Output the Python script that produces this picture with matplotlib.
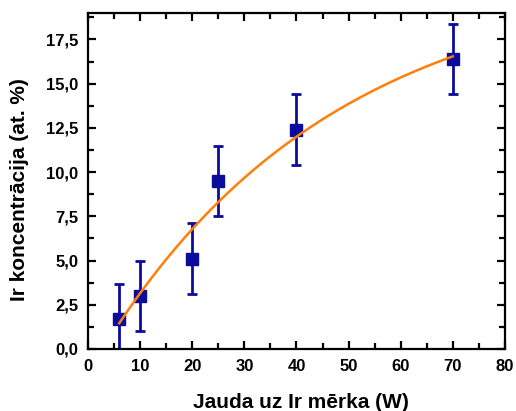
import numpy as np
import matplotlib
matplotlib.use("Agg")
import matplotlib.pyplot as plt
from matplotlib.ticker import MultipleLocator, FuncFormatter

plt.rcParams.update({
    "font.family": ["Liberation Sans", "DejaVu Sans"],
    "font.weight": "bold",
    "axes.linewidth": 1.6,
})

# sputtering power (W) vs Ir content (at. %)
power = [6, 10, 20, 25, 40, 70]
ir_conc = [1.7, 3.0, 5.1, 9.5, 12.4, 16.4]
ir_err = [2.0, 2.0, 2.0, 2.0, 2.0, 2.0]

# saturating fit: y = y0 + A * (1 - exp(-x / t))
fit_y0, fit_A, fit_t = -1.38, 22.72, 45.0
fit_range = (6, 70)

NAVY, ORANGE = "#0b0b9c", "#ff7f0a"

fig = plt.figure(figsize=(5.16, 4.11), dpi=100)
ax = fig.add_axes([0.1705, 0.151, 0.808, 0.8175])

ax.errorbar(power, ir_conc, yerr=ir_err, fmt="s", color=NAVY, ms=9, elinewidth=2,
            capsize=3.5, capthick=2, zorder=2)
xf = np.linspace(*fit_range, 200)
ax.plot(xf, fit_y0 + fit_A * (1 - np.exp(-xf / fit_t)), color=ORANGE, lw=1.8, zorder=3)

ax.set_xlim(0, 80)
ax.set_ylim(0, 19)
ax.xaxis.set_major_locator(MultipleLocator(10))
ax.xaxis.set_minor_locator(MultipleLocator(5))
ax.yaxis.set_major_locator(MultipleLocator(2.5))
ax.yaxis.set_minor_locator(MultipleLocator(1.25))
ax.yaxis.set_major_formatter(FuncFormatter(lambda v, p: f"{v:.1f}".replace(".", ",")))
ax.tick_params(which="both", direction="in", top=True, right=True, width=1.6, labelsize=12)
ax.tick_params(which="major", length=6)
ax.tick_params(axis="x", pad=7)
ax.tick_params(axis="y", pad=7)
ax.tick_params(which="minor", length=4)

ax.set_xlabel("Jauda uz Ir mērka (W)", fontsize=15, fontweight="bold", va="center")
ax.xaxis.set_label_coords(0.51, -0.158)
ax.set_ylabel("Ir koncentrācija (at. %)", fontsize=15, fontweight="bold", va="center")
ax.yaxis.set_label_coords(-0.165, 0.473)

fig.savefig("out.png", dpi=100)
